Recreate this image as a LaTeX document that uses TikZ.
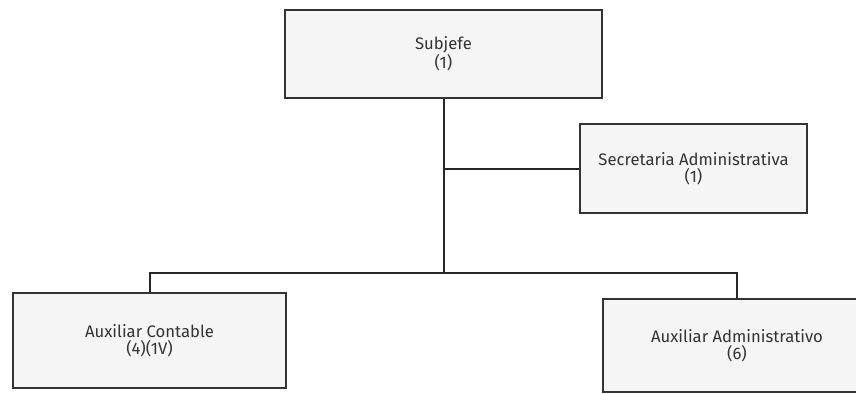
\documentclass[tikz,border=0pt]{standalone}
\usepackage{fontspec}
\setmainfont{Fira Sans}
\begin{document}
\begin{tikzpicture}[x=0.75pt,y=-0.75pt,
  box/.style={draw=black!80,line width=0.9pt,fill=black!4,align=center,
    inner sep=0pt,font=\fontsize{12.5}{12.5}\selectfont,text=black!80},
  conn/.style={draw=black!85,line width=1.5pt}]
\useasboundingbox (0,0) rectangle (856,393);
\clip (0,0) rectangle (856,393);
\fill[white] (0,0) rectangle (856,393);
\node[box,minimum width=237.75pt,minimum height=66pt] (sub) at (443.5,54) {Subjefe\\(1)};
\node[box,minimum width=170.25pt,minimum height=66.75pt] (sec) at (693.5,168.5) {Secretaria Administrativa\\(1)};
\node[box,minimum width=204.75pt,minimum height=71.25pt] (ac) at (149.5,340.5) {Auxiliar Contable\\(4)(1V)};
\node[box,minimum width=201pt,minimum height=69.75pt] (aa) at (737,345.5) {Auxiliar Administrativo\\(6)};
\coordinate (j) at (443.5,273);
\draw[conn] (sub.south) -- (j);
\draw[conn] (sub.south |- sec.west) -- (sec.west);
\draw[conn] (ac.north) |- (j) -| (aa.north);
\end{tikzpicture}
\end{document}
